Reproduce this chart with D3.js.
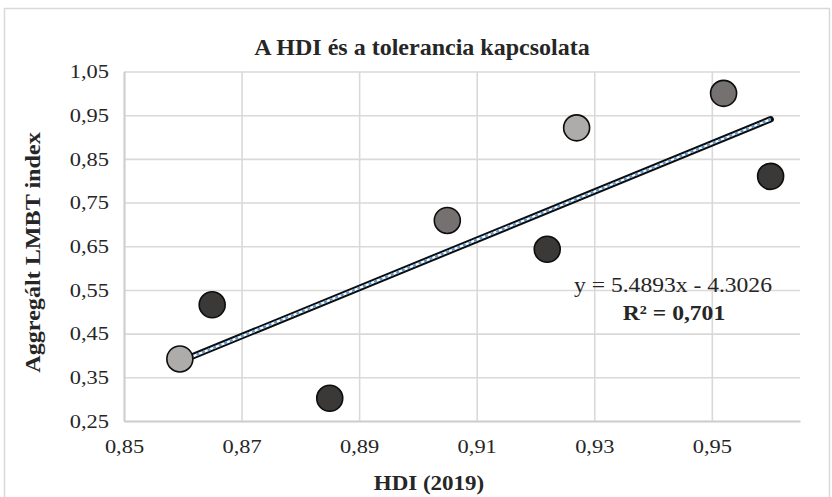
<!DOCTYPE html>
<html>
<head>
<meta charset="utf-8">
<script src="https://cdn.jsdelivr.net/npm/d3@7"></script>
<style>
  body { margin: 0; background: #fff; }
  text { font-family: "Liberation Serif", "Times New Roman", serif; fill: #262626; }
</style>
</head>
<body>
<div id="chart"></div>
<script>
// HDI (2019) vs aggregated LMBT index
const hdi   = [0.8595, 0.865, 0.885, 0.905, 0.922, 0.927, 0.952, 0.960];
const lmbt  = [0.392, 0.516, 0.302, 0.709, 0.643, 0.921, 1.000, 0.810];
const shade = ["light", "dark", "dark", "mid", "dark", "light", "mid", "dark"];
const xTicks = [0.85, 0.87, 0.89, 0.91, 0.93, 0.95];
const yTicks = [0.25, 0.35, 0.45, 0.55, 0.65, 0.75, 0.85, 0.95, 1.05];
const equation = "y = 5.4893x - 4.3026";
const rSquared = "R² = 0,701";

const W = 832, H = 497;
const margin = {top: 71.5, right: 32, bottom: 76, left: 124},
    width = W - margin.left - margin.right,
    height = H - margin.top - margin.bottom;
const sx = 1.15; // text in the source is a bit wide

const color = d3.scaleOrdinal()
    .domain(["light", "mid", "dark"])
    .range(["#aeabab", "#767171", "#3b3838"]);

const root = d3.select("#chart")
    .append("svg")
    .attr("width", W)
    .attr("height", H);

// chart frame
root.append("rect")
    .attr("x", 4.5).attr("y", 8.5)
    .attr("width", W - 7).attr("height", H + 20)
    .attr("fill", "none")
    .attr("stroke", "#d9d9d9")
    .attr("stroke-width", 1.5);

const svg = root.append("g")
    .attr("transform", `translate(${margin.left},${margin.top})`);

const x = d3.scaleLinear()
    .domain([0.85, 0.965])
    .range([0, width]);

const y = d3.scaleLinear()
    .domain([0.25, 1.05])
    .range([height, 0]);

const comma = v => d3.format(".2f")(v).replace(".", ",");

// gridlines
svg.append("g")
    .call(d3.axisLeft(y).tickValues(yTicks).tickSize(-width).tickFormat(""))
    .call(g => g.select(".domain").remove())
    .call(g => g.selectAll("line").attr("stroke", "#d9d9d9").attr("stroke-width", 1.6));

svg.append("g")
    .attr("transform", `translate(0,${height})`)
    .call(d3.axisBottom(x).tickValues(xTicks).tickSize(-height).tickFormat(""))
    .call(g => g.select(".domain").remove())
    .call(g => g.selectAll("line").attr("stroke", "#d9d9d9").attr("stroke-width", 1.6));

// axes
svg.append("g")
    .attr("transform", `translate(0,${height})`)
    .call(d3.axisBottom(x).tickValues(xTicks).tickSize(0).tickPadding(18).tickFormat(comma))
    .call(g => g.select(".domain").attr("stroke", "#cfcfcf").attr("stroke-width", 2))
    .call(g => g.selectAll("text").attr("font-size", 19.5).attr("fill", "#262626")
        .attr("font-family", "Liberation Serif")
        .attr("transform", `scale(${sx},1)`));

svg.append("g")
    .call(d3.axisLeft(y).tickValues(yTicks).tickSize(0).tickFormat(comma))
    .call(g => g.select(".domain").attr("stroke", "#cfcfcf").attr("stroke-width", 2))
    .call(g => g.selectAll("text").attr("font-size", 19.5).attr("fill", "#262626")
        .attr("font-family", "Liberation Serif")
        .attr("x", -15 / sx)
        .attr("transform", `scale(${sx},1)`));

// linear trend line from the points (least squares)
const mx = d3.mean(hdi), my = d3.mean(lmbt);
const slope = d3.sum(hdi, (v, i) => (v - mx) * (lmbt[i] - my)) / d3.sum(hdi, v => (v - mx) ** 2);
const icpt = my - slope * mx;
const ends = d3.extent(hdi).map(v => [v, slope * v + icpt]);
const line = d3.line().x(d => x(d[0])).y(d => y(d[1]));

svg.append("path").datum(ends).attr("d", line)
    .attr("stroke", "#0d0d0d").attr("stroke-width", 6.5).attr("stroke-linecap", "round").attr("fill", "none");
svg.append("path").datum(ends).attr("d", line)
    .attr("stroke", "#ffffff").attr("stroke-width", 2.5).attr("fill", "none");
svg.append("path").datum(ends).attr("d", line)
    .attr("stroke", "#5b9bd5").attr("stroke-width", 2.5).attr("stroke-dasharray", "3,3").attr("fill", "none");

// points
svg.append("g")
    .selectAll("circle")
    .data(hdi.map((v, i) => ({x: v, y: lmbt[i], s: shade[i]})))
    .join("circle")
    .attr("cx", d => x(d.x))
    .attr("cy", d => y(d.y))
    .attr("r", 13)
    .attr("fill", d => color(d.s))
    .attr("stroke", "#0d0d0d")
    .attr("stroke-width", 1.6);

// equation label
root.append("text")
    .attr("transform", `translate(673,291.5) scale(${sx},1)`)
    .attr("text-anchor", "middle")
    .attr("font-size", 20.5)
    .attr("fill", "#404040")
    .style("white-space", "pre")
    .text(equation);
root.append("text")
    .attr("transform", `translate(674,320) scale(${sx},1)`)
    .attr("text-anchor", "middle")
    .attr("font-size", 20.5)
    .attr("font-weight", "bold")
    .attr("fill", "#262626")
    .text(rSquared);

// titles
root.append("text")
    .attr("x", 422).attr("y", 55)
    .attr("text-anchor", "middle")
    .attr("font-size", 24)
    .attr("font-weight", "bold")
    .text("A HDI és a tolerancia kapcsolata");

root.append("text")
    .attr("transform", `translate(429,490) scale(${sx},1)`)
    .attr("text-anchor", "middle")
    .attr("font-size", 20)
    .attr("font-weight", "bold")
    .text("HDI (2019)");

root.append("text")
    .attr("transform", `translate(40,252.5) rotate(-90) scale(${sx},1)`)
    .attr("text-anchor", "middle")
    .attr("font-size", 21)
    .attr("font-weight", "bold")
    .text("Aggregált LMBT index");
</script>
</body>
</html>
